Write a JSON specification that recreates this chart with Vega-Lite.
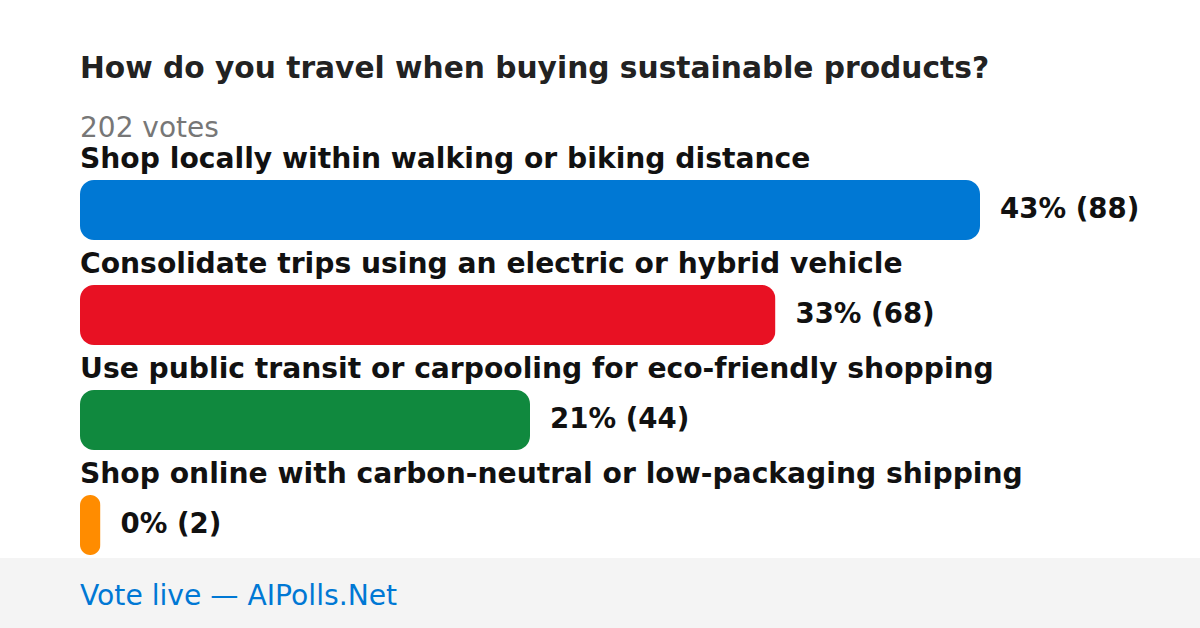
{
  "$schema": "https://vega.github.io/schema/vega-lite/v6.json",
  "autosize": "none",
  "width": 1200,
  "height": 488,
  "padding": {"left": 0, "top": 140, "right": 0, "bottom": 0},
  "background": "#ffffff",
  "config": {"font": "DejaVu Sans", "view": {"stroke": null}},
  "title": {
    "text": "How do you travel when buying sustainable products?",
    "subtitle": "202 votes",
    "anchor": "start",
    "frame": "group",
    "dx": 80,
    "fontSize": 29.7,
    "fontWeight": "bold",
    "color": "#222222",
    "subtitleFontSize": 28,
    "subtitleColor": "#777777",
    "subtitlePadding": 30,
    "offset": -4
  },
  "data": {"values": [
    {"answer": "Shop locally within walking or biking distance", "votes": 88, "label": "43% (88)"},
    {"answer": "Consolidate trips using an electric or hybrid vehicle", "votes": 68, "label": "33% (68)"},
    {"answer": "Use public transit or carpooling for eco-friendly shopping", "votes": 44, "label": "21% (44)"},
    {"answer": "Shop online with carbon-neutral or low-packaging shipping", "votes": 2, "label": "0% (2)"}
  ]},
  "layer": [
    {
      "data": {"values": [{"footer": "Vote live — AIPolls.Net"}]},
      "mark": {"type": "rect", "color": "#f4f4f4", "x": 0, "x2": 1200, "y": 418, "y2": 488},
      "encoding": {}
    },
    {
      "data": {"values": [{"footer": "Vote live — AIPolls.Net"}]},
      "mark": {"type": "text", "align": "left", "baseline": "middle", "x": 80, "y": 457, "fontSize": 28.2, "color": "#0078d4"},
      "encoding": {"text": {"field": "footer"}}
    },
    {
      "mark": {"type": "bar", "height": 60, "cornerRadius": 14},
      "encoding": {
        "y": {"field": "answer", "type": "nominal", "sort": null, "axis": null,
              "scale": {"range": [17.5, 437.5], "paddingInner": 0, "paddingOuter": 0}},
        "x": {"field": "votes", "type": "quantitative", "axis": null,
              "scale": {"domain": [0, 88], "range": [80, 980], "nice": false, "zero": true}},
        "color": {"field": "answer", "type": "nominal", "sort": null, "legend": null,
                  "scale": {"range": ["#0078d4", "#e81123", "#10893e", "#ff8c00"]}}
      }
    },
    {
      "mark": {"type": "text", "align": "left", "baseline": "middle", "dx": 20, "fontSize": 27.6, "fontWeight": "bold", "color": "#111111"},
      "encoding": {
        "y": {"field": "answer", "type": "nominal", "sort": null},
        "x": {"field": "votes", "type": "quantitative"},
        "text": {"field": "label"}
      }
    },
    {
      "mark": {"type": "text", "align": "left", "baseline": "middle", "dy": -50, "fontSize": 28.2, "fontWeight": "bold", "color": "#111111"},
      "encoding": {
        "y": {"field": "answer", "type": "nominal", "sort": null},
        "x": {"datum": 0, "type": "quantitative"},
        "text": {"field": "answer"}
      }
    }
  ]
}
